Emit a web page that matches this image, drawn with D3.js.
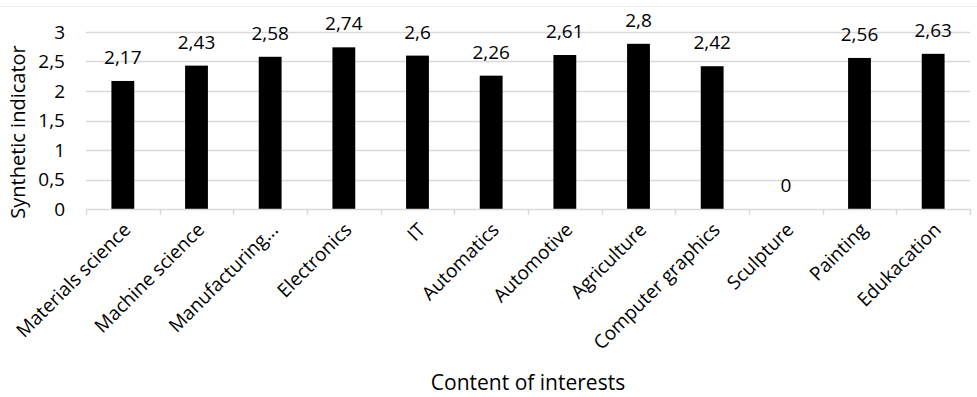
<!DOCTYPE html>
<html>
<head>
<meta charset="utf-8">
<script src="https://cdn.jsdelivr.net/npm/d3@7"></script>
<style>
    body { margin: 0; background: #fff; }
    svg text { font-family: "Open Sans", "Liberation Sans", sans-serif; fill: #000; }
</style>
</head>
<body>
<div id="chart"></div>
<script>
// chart data
const categories = ["Materials science", "Machine science", "Manufacturing...", "Electronics", "IT",
    "Automatics", "Automotive", "Agriculture", "Computer graphics", "Sculpture", "Painting", "Edukacation"];
const values = [2.17, 2.43, 2.58, 2.74, 2.6, 2.26, 2.61, 2.8, 2.42, 0, 2.56, 2.63];
const yTicks = [0, 0.5, 1, 1.5, 2, 2.5, 3];

const width = 977, height = 397;
const margin = { top: 32, right: 7, bottom: 188, left: 86 };
const innerW = width - margin.left - margin.right;
const innerH = height - margin.top - margin.bottom;

const fmt = v => String(v).replace(".", ",");

let svg = d3.select("#chart").append("svg")
    .attr("width", width)
    .attr("height", height);

// faint outer border line at top
svg.append("line")
    .attr("x1", 0).attr("x2", width)
    .attr("y1", 6.5).attr("y2", 6.5)
    .attr("stroke", "#ececec");

let g = svg.append("g")
    .attr("transform", "translate(" + margin.left + "," + margin.top + ")");

let x = d3.scaleBand()
    .domain(categories)
    .range([0, innerW])
    .paddingInner(0.69)
    .paddingOuter(0.345);

let y = d3.scaleLinear()
    .domain([0, 3])
    .range([innerH, 0]);

// gridlines
g.selectAll(".grid")
    .data(yTicks.filter(d => d > 0))
    .enter().append("line")
    .attr("class", "grid")
    .attr("x1", 0).attr("x2", innerW)
    .attr("y1", d => Math.round(y(d)) + 0.5)
    .attr("y2", d => Math.round(y(d)) + 0.5)
    .attr("stroke", "#d9d9d9")
    .attr("stroke-width", 1.5);

// y tick labels
g.selectAll(".ylab")
    .data(yTicks)
    .enter().append("text")
    .attr("class", "ylab")
    .attr("x", -21)
    .attr("y", d => y(d))
    .attr("dy", "0.35em")
    .attr("text-anchor", "end")
    .style("font-size", "19px")
    .text(d => fmt(d));

// bars
g.selectAll(".bar")
    .data(values)
    .enter().append("rect")
    .attr("class", "bar")
    .attr("x", (d, i) => x(categories[i]))
    .attr("width", x.bandwidth())
    .attr("y", d => y(d))
    .attr("height", d => innerH - y(d))
    .attr("fill", "#000");

// value labels
g.selectAll(".vlab")
    .data(values)
    .enter().append("text")
    .attr("class", "vlab")
    .attr("x", (d, i) => x(categories[i]) + x.bandwidth() / 2)
    .attr("y", d => y(d) - 17)
    .attr("text-anchor", "middle")
    .style("font-size", "19px")
    .text(d => fmt(d));

// x axis line + ticks at band boundaries
let xAxis = g.append("g").attr("transform", "translate(0," + innerH + ")");
xAxis.append("line")
    .attr("x1", 0).attr("x2", innerW)
    .attr("y1", 0.5).attr("y2", 0.5)
    .attr("stroke", "#d9d9d9")
    .attr("stroke-width", 1.5);
xAxis.selectAll(".tick")
    .data(d3.range(categories.length + 1))
    .enter().append("line")
    .attr("x1", i => Math.round(i * x.step()) + 0.5)
    .attr("x2", i => Math.round(i * x.step()) + 0.5)
    .attr("y1", 0).attr("y2", 6)
    .attr("stroke", "#d9d9d9")
    .attr("stroke-width", 1.5);

// rotated category labels
xAxis.selectAll(".xlab")
    .data(categories)
    .enter().append("text")
    .attr("class", "xlab")
    .attr("text-anchor", "end")
    .attr("transform", d => "translate(" + (x(d) + x.bandwidth() / 2 + 9) + ",22) rotate(-45)")
    .style("font-size", "19px")
    .text(d => d);

// axis titles
svg.append("text")
    .attr("x", margin.left + innerW / 2)
    .attr("y", 390)
    .attr("text-anchor", "middle")
    .style("font-size", "21px")
    .text("Content of interests");

svg.append("text")
    .attr("transform", "translate(25,132) rotate(-90)")
    .attr("text-anchor", "middle")
    .style("font-size", "20px")
    .text("Synthetic indicator");
</script>
</body>
</html>
